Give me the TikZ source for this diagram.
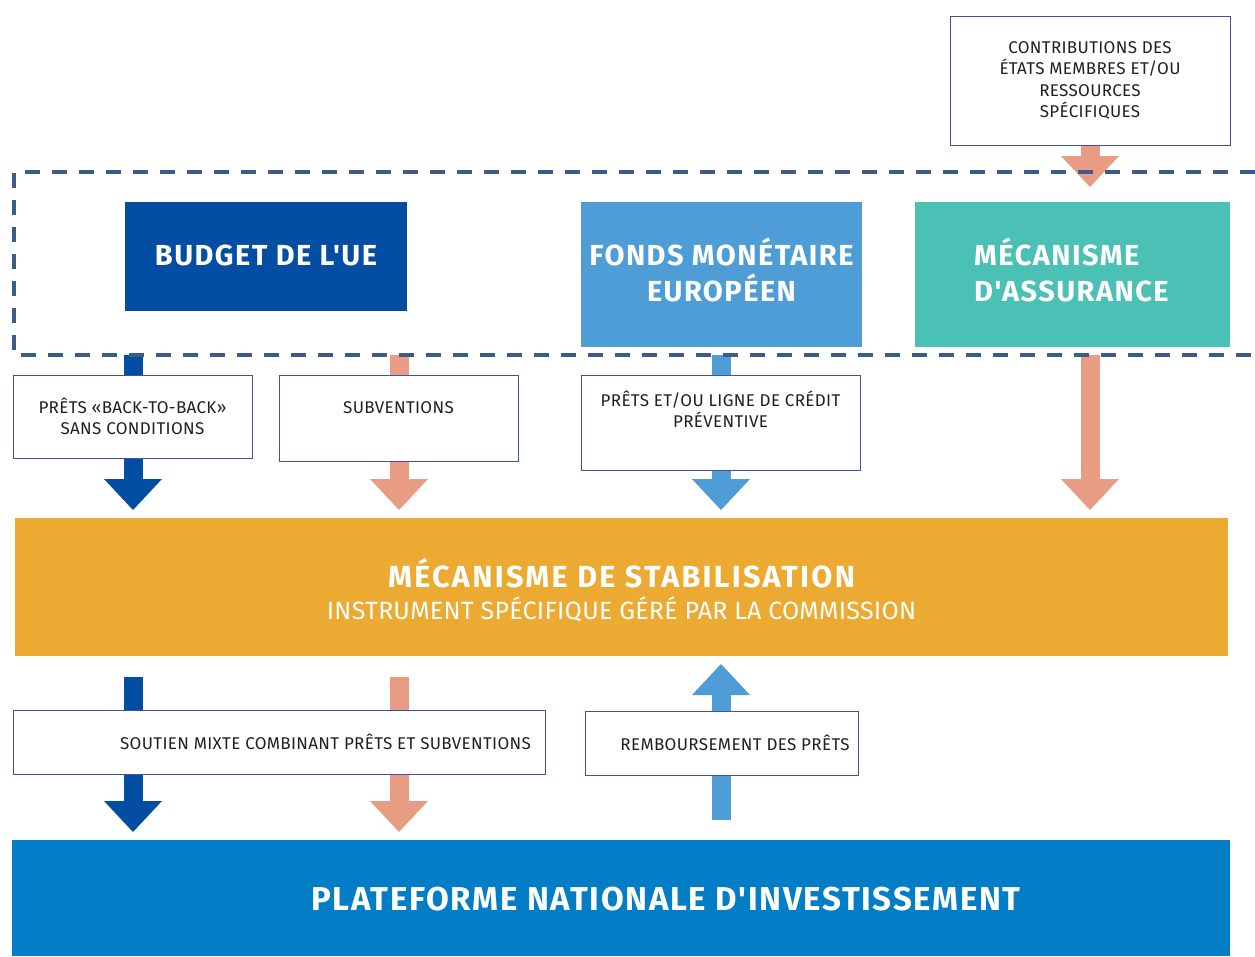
\documentclass[tikz,border=0pt]{standalone}
\usepackage{fontspec}
\setmainfont{Fira Sans}
\newfontfamily\boxfont{Fira Sans}[LetterSpace=2]
\newfontfamily\titlefont{Fira Sans}[LetterSpace=5]
\newfontfamily\widefont{Fira Sans}[LetterSpace=7.5]
\newfontfamily\subfont{Fira Sans}[LetterSpace=1]
\usepackage{xcolor}
\usetikzlibrary{arrows.meta,positioning}
\definecolor{ink}{HTML}{231F20}
\definecolor{eublue}{HTML}{034EA2}
\definecolor{emfblue}{HTML}{4F9DD6}
\definecolor{insteal}{HTML}{4BC0B5}
\definecolor{stabgold}{HTML}{ECAA32}
\definecolor{platblue}{HTML}{037DC6}
\definecolor{salmon}{HTML}{E89C84}
\definecolor{zonecol}{HTML}{3C5A8A}
\definecolor{boxline}{HTML}{4152A2}
\pgfdeclarelayer{back}
\pgfsetlayers{back,main}
\tikzset{
  panel/.style={inner sep=0pt},
  title/.style={inner sep=0pt, text=white, align=center, font=\titlefont\fontsize{29}{36}\selectfont\bfseries},
  box/.style={draw=boxline, line width=1pt, fill=white, inner sep=0pt, align=center, text=ink, font=\boxfont\fontsize{17}{21.5}\selectfont},
  lab/.style={text=ink, inner sep=0pt, align=center, font=\boxfont\fontsize{17}{21.5}\selectfont},
  flow/.style={line width=19pt, -{Triangle[width=58pt,length=31pt,line width'=0pt]}},
  zone/.style={draw=zonecol, line width=3.5pt, dash pattern=on 15pt off 12pt},
}

\begin{document}
\begin{tikzpicture}[x=1pt,y=-1pt]
  \useasboundingbox (0,0) rectangle (1255,956);

  % top row
  \node[box, minimum width=280pt, minimum height=129pt] (contrib) at (1090,80.5)
    {CONTRIBUTIONS DES\\ÉTATS MEMBRES ET/OU\\RESSOURCES\\SPÉCIFIQUES};
  \node[panel, fill=eublue, minimum width=282pt, minimum height=109pt] (budget) at (266,256.5) {};
  \node[title] (budget text) at (266,255.5) {BUDGET DE L'UE};
  \node[panel, fill=emfblue, minimum width=281pt, minimum height=145pt] (fonds) at (721.5,274.5) {};
  \node[title] (fonds text) at (721.5,270) {FONDS MONÉTAIRE\\EUROPÉEN};
  \node[panel, fill=insteal, minimum width=315pt, minimum height=145pt] (assur) at (1072.5,274.5) {};
  \node[title, align=left, anchor=west] (assur text) at (974,270) {MÉCANISME\\D'ASSURANCE};

  % instruments
  \node[box, minimum width=239pt, minimum height=83pt] (b2b) at (132.5,416.5) {PRÊTS «BACK-TO-BACK»\\SANS CONDITIONS};
  \node[box, minimum width=239pt, minimum height=86pt] (subv) at (398.5,418) {};
  \node[lab] (subv text) at (398.5,407.5) {SUBVENTIONS};
  \node[box, minimum width=279pt, minimum height=95pt] (pret) at (720.5,422.5) {};
  \node[lab] (pret text) at (720.5,409) {PRÊTS ET/OU LIGNE DE CRÉDIT\\PRÉVENTIVE};

  % stabilisation
  \node[panel, fill=stabgold, minimum width=1213pt, minimum height=138pt] (stab) at (621.5,587) {};
  \node[title, font=\widefont\fontsize{30.5}{36}\selectfont\bfseries] (stab text) at (621.5,590)
    {MÉCANISME DE STABILISATION\\[-4pt]{\subfont\fontsize{25}{28}\selectfont\mdseries INSTRUMENT SPÉCIFIQUE GÉRÉ PAR LA COMMISSION}};

  % lower row
  \node[box, minimum width=532pt, minimum height=64pt] (mixte) at (279,742) {};
  \node[lab] (mixte text) at (325.5,742) {SOUTIEN MIXTE COMBINANT PRÊTS ET SUBVENTIONS};
  \node[box, minimum width=273pt, minimum height=64pt] (remb) at (721.5,743) {};
  \node[lab] (remb text) at (735,743) {REMBOURSEMENT DES PRÊTS};

  \node[panel, fill=platblue, minimum width=1218pt, minimum height=116pt] (plat) at (621,898) {};
  \node[title, font=\titlefont\fontsize{33}{36}\selectfont\bfseries] (plat text) at (666,899) {PLATEFORME NATIONALE D'INVESTISSEMENT};

  % arrow ends
  \coordinate (b2b in) at (133,355);
  \coordinate (b2b out) at (133,510);
  \coordinate (subv in) at (399,355);
  \coordinate (subv out) at (399,510);
  \coordinate (pret in) at (721,355);
  \coordinate (pret out) at (721,510);
  \coordinate (assur in) at (1090,187);
  \coordinate (assur top) at (1090,355);
  \coordinate (assur out) at (1090,510);
  \coordinate (mixb in) at (133,677);
  \coordinate (mixb out) at (133,832);
  \coordinate (mixs in) at (399,677);
  \coordinate (mixs out) at (399,832);
  \coordinate (remb tail) at (721,820);
  \coordinate (remb tip) at (721,664);

  \begin{pgfonlayer}{back}
    \draw[flow, salmon] (contrib.south) -- (assur in);
    \draw[flow, eublue] (b2b in) -- (b2b out);
    \draw[flow, salmon] (subv in) -- (subv out);
    \draw[flow, emfblue] (pret in) -- (pret out);
    \draw[flow, salmon] (assur top) -- (assur out);
    \draw[flow, eublue] (mixb in) -- (mixb out);
    \draw[flow, salmon] (mixs in) -- (mixs out);
    \draw[flow, emfblue] (remb tail) -- (remb tip);
  \end{pgfonlayer}

  % dashed frame, open on the right
  \draw[zone] (1255,172) -- (14,172) -- (14,355) -- (1255,355);
\end{tikzpicture}
\end{document}
